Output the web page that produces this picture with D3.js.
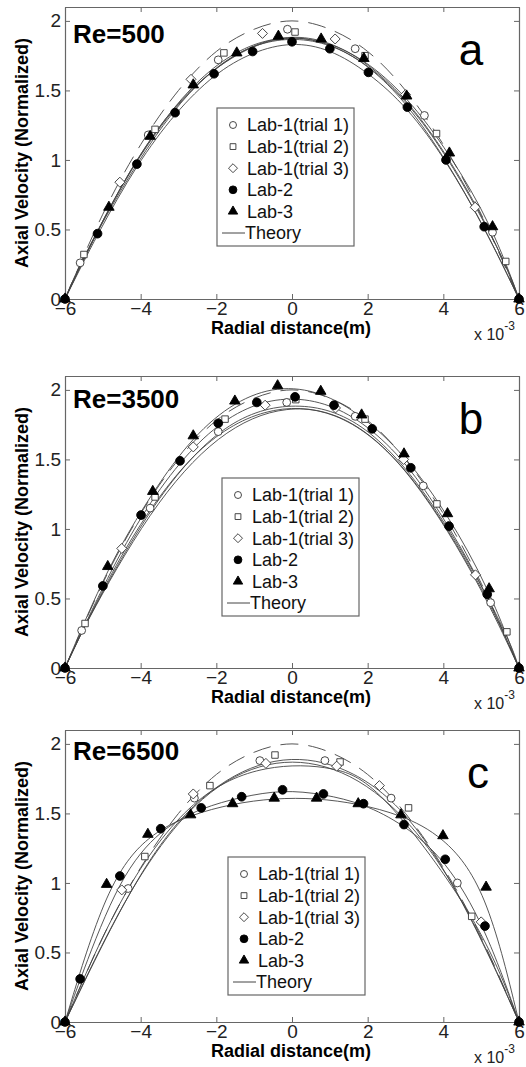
<!DOCTYPE html>
<html>
<head>
<meta charset="utf-8">
<script src="https://cdn.jsdelivr.net/npm/d3@7"></script>
<style>
  body { margin: 0; background: #fff; }
  text { font-family: Arial, "Liberation Sans", sans-serif; }
</style>
</head>
<body>
<svg id="fig" width="526" height="1067"></svg>
<script>
// ticks and labels
var xTicks = [-6, -4, -2, 0, 2, 4, 6];
var yTicks = [0, 0.5, 1, 1.5, 2];
var legendNames = ["Lab-1(trial 1)", "Lab-1(trial 2)", "Lab-1(trial 3)", "Lab-2", "Lab-3", "Theory"];
var panelTitles = ["Re=500", "Re=3500", "Re=6500"];
var panelLetters = ["a", "b", "c"];

// theory profile (same in all panels)
var theory = [[-6,0],[-5,0.61],[-4,1.11],[-3,1.5],[-2,1.78],[-1,1.94],[0,2.0],[1,1.94],[2,1.78],[3,1.5],[4,1.11],[5,0.61],[6,0]];

// Re=500
var a_trial1 = [[-6,0],[-5.6,0.26],[-3.8,1.18],[-1.95,1.72],[-0.12,1.94],[1.67,1.8],[3.5,1.32],[5.3,0.48],[6,0]];
var a_trial2 = [[-6,0],[-5.5,0.32],[-3.62,1.22],[-1.8,1.77],[0.08,1.92],[1.93,1.75],[3.82,1.19],[5.65,0.27],[6,0]];
var a_trial3 = [[-6,0],[-4.55,0.84],[-2.67,1.58],[-0.78,1.91],[1.14,1.87],[3.0,1.47],[4.84,0.66],[6,0]];
var a_lab2 = [[-6,0],[-5.14,0.47],[-4.1,0.97],[-3.09,1.34],[-2.06,1.62],[-1.04,1.78],[0,1.85],[1.0,1.8],[2.02,1.63],[3.05,1.38],[4.07,1.0],[5.08,0.52],[6,0]];
var a_lab3 = [[-6,0],[-4.84,0.66],[-3.75,1.17],[-2.61,1.54],[-1.46,1.77],[-0.36,1.89],[0.77,1.87],[1.9,1.73],[3.03,1.46],[4.16,1.05],[5.3,0.52],[6,0]];

// Re=3500
var b_trial1 = [[-6,0],[-5.56,0.27],[-3.75,1.15],[-1.95,1.7],[-0.14,1.91],[1.67,1.81],[3.47,1.31],[5.25,0.47],[6,0]];
var b_trial2 = [[-6,0],[-5.47,0.32],[-3.62,1.23],[-1.77,1.79],[0.1,1.93],[1.93,1.79],[3.83,1.18],[5.68,0.26],[6,0]];
var b_trial3 = [[-6,0],[-4.5,0.86],[-2.61,1.59],[-0.71,1.89],[1.15,1.87],[2.95,1.5],[4.85,0.67],[6,0]];
var b_lab2 = [[-6,0],[-5.0,0.59],[-3.99,1.1],[-2.96,1.49],[-1.95,1.76],[-0.93,1.91],[0.08,1.95],[1.11,1.89],[2.12,1.72],[3.14,1.44],[4.15,1.02],[5.16,0.53],[6,0]];
var b_lab3 = [[-6,0],[-4.87,0.73],[-3.68,1.27],[-2.61,1.67],[-1.51,1.92],[-0.38,2.03],[0.76,1.99],[1.84,1.82],[2.96,1.54],[4.11,1.11],[5.21,0.57],[6,0]];

// Re=6500
var c_trial1 = [[-6,0],[-4.33,0.96],[-2.58,1.61],[-0.85,1.88],[0.87,1.88],[2.62,1.61],[4.37,1.0],[6,0]];
var c_trial2 = [[-6,0],[-3.89,1.19],[-2.17,1.7],[-0.45,1.92],[1.27,1.87],[3.08,1.54],[4.75,0.76],[6,0]];
var c_trial3 = [[-6,0],[-4.5,0.95],[-2.61,1.64],[-0.69,1.86],[1.18,1.84],[2.31,1.7],[5.0,0.72],[6,0]];
var c_lab2 = [[-6,0],[-5.6,0.31],[-4.55,1.05],[-3.47,1.39],[-2.4,1.54],[-1.33,1.62],[-0.25,1.67],[0.83,1.64],[1.89,1.57],[2.96,1.42],[4.05,1.17],[5.1,0.69],[6,0]];
var c_lab3 = [[-6,0],[-4.9,0.99],[-3.81,1.35],[-2.68,1.49],[-1.57,1.57],[-0.47,1.61],[0.65,1.61],[1.75,1.57],[2.88,1.49],[3.99,1.34],[5.13,0.97],[6,0]];

var panels = [
  { top: 7,   series: [a_trial1, a_trial2, a_trial3, a_lab2, a_lab3], titleY: 36, letterX: 471, legendX: 217, legendY: 108 },
  { top: 376, series: [b_trial1, b_trial2, b_trial3, b_lab2, b_lab3], titleY: 32, letterX: 471, legendX: 222, legendY: 478 },
  { top: 730, series: [c_trial1, c_trial2, c_trial3, c_lab2, c_lab3], titleY: 30, letterX: 478, legendX: 228, legendY: 857 }
];

var plotLeft = 65, plotRight = 519, plotH = 292;
var axisGray = "#666", lineGray = "#444";

// marker shapes (MATLAB-like)
var markers = [
  { type: d3.symbolCircle, size: 48, fill: "#fff" },
  { type: d3.symbolSquare, size: 42, fill: "#fff" },
  { type: { draw: function(ctx, size) { var r = Math.sqrt(size / 2); ctx.moveTo(0, -r); ctx.lineTo(r, 0); ctx.lineTo(0, r); ctx.lineTo(-r, 0); ctx.closePath(); } }, size: 50, fill: "#fff" },
  { type: d3.symbolCircle, size: 60, fill: "#000" },
  { type: d3.symbolTriangle, size: 48, fill: "#000" }
];

var svg = d3.select("#fig");

panels.forEach(function(p, pi) {
  var x = d3.scaleLinear().domain([-6, 6]).range([plotLeft, plotRight]);
  var y = d3.scaleLinear().domain([0, 2.1]).range([p.top + plotH, p.top]);
  var g = svg.append("g");

  var line = d3.line()
      .x(function(d) { return x(d[0]); })
      .y(function(d) { return y(d[1]); })
      .curve(d3.curveBasis);

  // theory (dashed)
  g.append("path")
      .datum(theory)
      .attr("fill", "none")
      .attr("stroke", "#555")
      .attr("stroke-width", 1)
      .attr("stroke-dasharray", "18,10")
      .attr("d", d3.line().x(function(d) { return x(d[0]); }).y(function(d) { return y(d[1]); }).curve(d3.curveNatural));

  // fit lines
  p.series.forEach(function(s) {
    g.append("path")
        .datum(s)
        .attr("fill", "none")
        .attr("stroke", lineGray)
        .attr("stroke-width", 0.9)
        .attr("d", line);
  });

  // axes
  var bottom = g.append("g")
      .attr("transform", "translate(0," + (p.top + plotH) + ")")
      .call(d3.axisBottom(x).tickValues(xTicks).tickSizeInner(-5).tickSizeOuter(0).tickPadding(2));
  var left = g.append("g")
      .attr("transform", "translate(" + plotLeft + ",0)")
      .call(d3.axisLeft(y).tickValues(yTicks).tickFormat(d3.format("")).tickSizeInner(-5).tickSizeOuter(0).tickPadding(4));
  var topAx = g.append("g")
      .attr("transform", "translate(0," + p.top + ")")
      .call(d3.axisTop(x).tickValues(xTicks).tickSizeInner(-5).tickSizeOuter(0).tickFormat(""));
  var rightAx = g.append("g")
      .attr("transform", "translate(" + plotRight + ",0)")
      .call(d3.axisRight(y).tickValues(yTicks).tickSizeInner(-5).tickSizeOuter(0).tickFormat(""));

  [bottom, left, topAx, rightAx].forEach(function(a) {
    a.select(".domain").attr("stroke", axisGray).attr("stroke-width", 1.2);
    a.selectAll(".tick line").attr("stroke", axisGray);
    a.selectAll(".tick text").attr("fill", "#222").style("font-size", "19px").style("font-family", "Arial, 'Liberation Sans', sans-serif");
  });

  // markers (open markers are not drawn on the wall points)
  p.series.forEach(function(s, si) {
    var m = markers[si];
    var pts = si < 3 ? s.filter(function(d) { return d[1] > 0; }) : s;
    g.selectAll(null)
        .data(pts)
        .enter().append("path")
        .attr("transform", function(d) { return "translate(" + x(d[0]) + "," + y(d[1]) + ")"; })
        .attr("d", d3.symbol().type(m.type).size(m.size))
        .attr("fill", m.fill)
        .attr("stroke", si < 3 ? "#333" : "#000")
        .attr("stroke-width", 0.9);
  });

  // title and panel letter
  g.append("text")
      .attr("x", 73).attr("y", p.top + p.titleY)
      .style("font-size", "26px").style("font-weight", "bold")
      .text(panelTitles[pi]);
  g.append("text")
      .attr("x", p.letterX).attr("y", p.top + 58)
      .attr("text-anchor", "middle")
      .style("font-size", "44px")
      .text(panelLetters[pi]);

  // axis labels
  g.append("text")
      .attr("x", 291).attr("y", p.top + plotH + 35)
      .attr("text-anchor", "middle")
      .style("font-size", "18px").style("font-weight", "bold")
      .text("Radial distance(m)");
  g.append("text")
      .attr("transform", "translate(28," + (p.top + plotH / 2) + ") rotate(-90)")
      .attr("text-anchor", "middle")
      .style("font-size", "18px").style("font-weight", "bold")
      .text("Axial Velocity (Normalized)");
  var ex = g.append("text")
      .attr("x", 474).attr("y", p.top + plotH + 41)
      .style("font-size", "16px").attr("fill", "#222");
  ex.append("tspan").text("x 10");
  ex.append("tspan").attr("dy", -10).style("font-size", "12px").text("-3");

  // legend
  var lg = g.append("g").attr("transform", "translate(" + p.legendX + "," + p.legendY + ")");
  lg.append("rect")
      .attr("width", 137).attr("height", 138)
      .attr("fill", "#fff").attr("stroke", axisGray).attr("stroke-width", 1.2);
  legendNames.forEach(function(name, i) {
    var ry = 17 + i * 21.6;
    if (i < 5) {
      var m = markers[i];
      lg.append("path")
          .attr("transform", "translate(16," + ry + ")")
          .attr("d", d3.symbol().type(m.type).size(m.size * 0.8))
          .attr("fill", m.fill)
          .attr("stroke", i < 3 ? "#333" : "#000")
          .attr("stroke-width", 0.9);
      lg.append("text").attr("x", 30).attr("y", ry).attr("dy", "0.35em")
          .style("font-size", "18px").attr("fill", "#111").text(name);
    } else {
      lg.append("line").attr("x1", 5).attr("x2", 28).attr("y1", ry).attr("y2", ry)
          .attr("stroke", lineGray).attr("stroke-width", 1);
      lg.append("text").attr("x", 28).attr("y", ry).attr("dy", "0.35em")
          .style("font-size", "18px").attr("fill", "#111").text(name);
    }
  });
});
</script>
</body>
</html>
